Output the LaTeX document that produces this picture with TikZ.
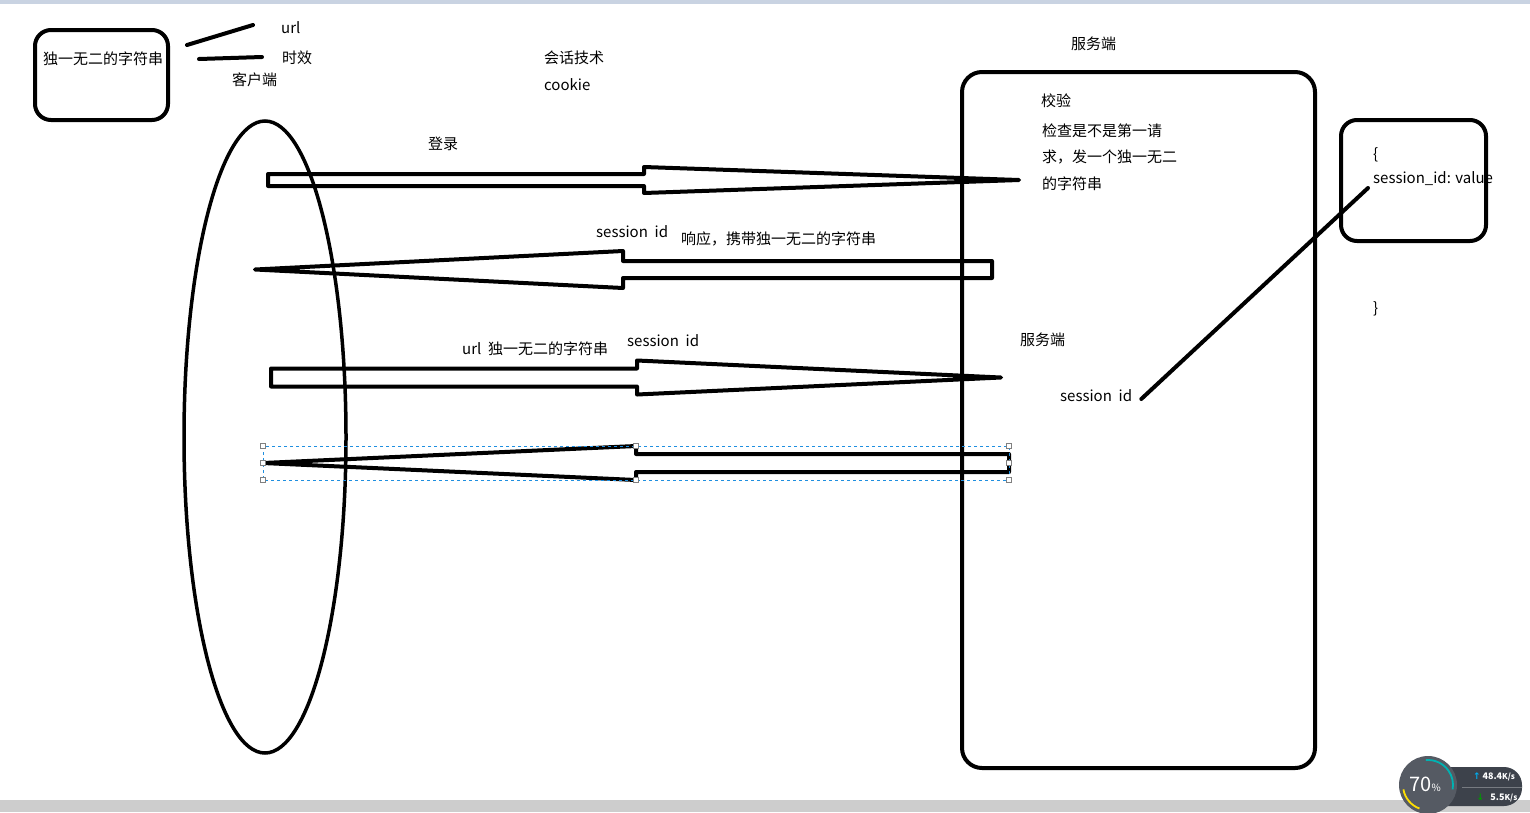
\documentclass[tikz,border=0pt]{standalone}
\usepackage{fontspec}
\setmainfont{Noto Sans CJK SC}
\newfontfamily\symfont{DejaVu Sans}
\usetikzlibrary{positioning, shapes.geometric}

\definecolor{barblue}{HTML}{C9D3E2}
\definecolor{bargrey}{HTML}{CDCDCD}
\definecolor{selblue}{HTML}{1F8FE0}
\definecolor{widgetdark}{HTML}{3D424B}
\definecolor{widgetring}{HTML}{555A63}

\begin{document}
\begin{tikzpicture}[x=1pt, y=-1pt,
        every node/.style={font=\fontsize{15}{18}\selectfont, inner sep=0pt},
        lbl/.style={anchor=west},
        pen/.style={line width=4pt, line join=round, line cap=round},
        bubble/.style={draw, line width=4pt, rounded corners=16pt},
        handle/.style={draw=gray, fill=white, line width=0.6pt, minimum size=5pt}]
        \useasboundingbox (0,0) rectangle (1530,812);
        \fill[white] (0,0) rectangle (1530,812);
        \fill[barblue] (0,0) rectangle (1530,4); % window bar on top

        % Client side
        \node[bubble, minimum width=133pt, minimum height=90pt] (token) at (101.5,75) {};
        \node (tokentxt) at (103,59) {独一无二的字符串};
        \draw[pen] (187,45) -- (253,25);
        \draw[pen] (199,59) -- (262,57);
        \node (url) [lbl] at (281,28) {url};
        \node (ttl) [lbl] at (282,58) {时效};
        \node (client) [lbl] at (232,80) {客户端};
        \node[draw, ellipse, line width=3.5pt, minimum width=162pt, minimum height=632pt] (clientarea) at (265,437) {};

        \node (topic) [lbl] at (544,58) {会话技术};
        \node (cookie) [lbl] at (544,85) {cookie};

        % Server side
        \node (server) [lbl] at (1071,44) {服务端};
        \node[bubble, rounded corners=20pt, minimum width=353pt, minimum height=696pt] (serverbox) at (1138.5,420) {};
        \node (check) [lbl] at (1041,101) {校验};
        \node (desc1) [lbl] at (1042,131) {检查是不是第一请};
        \node (desc2) [lbl] at (1042,157) {求，发一个独一无二};
        \node (desc3) [lbl] at (1042,184) {的字符串};
        \node (server2) [lbl] at (1020,340) {服务端};
        \node (sid3) [lbl] at (1060,396) {session\ \ id};

        % Session store
        \node[bubble, minimum width=145pt, minimum height=121pt] (store) at (1413.5,180.5) {};
        \node (open) [lbl] at (1373,155) {\{};
        \node (kv) [lbl] at (1373,179) {session\_id: value};
        \node (close) [lbl] at (1373,309) {\}};
        \draw[pen] (sid3.east) ++(9pt,-3pt) -- ([shift={(-5pt,-9pt)}]kv.west);

        % Request / response arrows
        \foreach \tail/\base/\tip/\mid/\h/\hh in {268/644/1019/180/6/13, 992/623/255/269.5/8.5/18.5, 271/637/1001/377.5/9/17, 1009/636/263/463/9/17} {
            \draw[pen, line cap=butt, miter limit=2] (\tail,\mid-\h) -- (\base,\mid-\h) -- (\base,\mid-\hh) -- (\tip,\mid) -- (\base,\mid+\hh) -- (\base,\mid+\h) -- (\tail,\mid+\h) -- cycle;
        }
        \node (login) [lbl] at (428,144) {登录};
        \node (sid1) [lbl] at (596,232) {session\ \ id};
        \node (reply) [lbl] at (681,239) {响应，携带独一无二的字符串};
        \node (again) [lbl] at (462,349) {url\ \ 独一无二的字符串};
        \node (sid2) [lbl] at (627,341) {session\ \ id};

        % Selection frame round the last arrow
        \draw[selblue, dashed, line width=0.8pt] (263,446) rectangle (1009,480);
        \foreach \hx/\hy in {263/446, 636/446, 1009/446, 263/463, 1009/463, 263/480, 636/480, 1009/480} {
            \node[handle] at (\hx,\hy) {};
        }

        % Status bar and speed widget
        \fill[bargrey] (0,800) rectangle (1530,812);
        \fill[widgetdark, rounded corners=18pt] (1430,767) rectangle (1522,806);
        \draw[white!30!widgetdark, line width=0.5pt] (1462,787) -- (1522,787);
        \fill[widgetring] (1428,785) circle (29pt);
        \draw[teal!60!cyan, line width=1.8pt] (1428,785) ++(95:25pt) arc (95:-10:25pt);
        \draw[yellow!80!orange, line width=1.8pt] (1428,785) ++(190:25pt) arc (190:250:25pt);
        \node[text=white, font=\fontsize{20}{22}\selectfont] (load) at (1425,784) {70\fontsize{10}{12}\selectfont\%};
        \node[text=white, font=\fontsize{9}{11}\selectfont\bfseries] (up) at (1494,777) {{\symfont\color{cyan}↑} 48.4\fontsize{8}{9}\selectfont K/s};
        \node[text=white, font=\fontsize{9}{11}\selectfont\bfseries] (down) at (1497,798) {{\symfont\color{green!60!black}↓} \ \ 5.5\fontsize{8}{9}\selectfont K/s};
\end{tikzpicture}
\end{document}
